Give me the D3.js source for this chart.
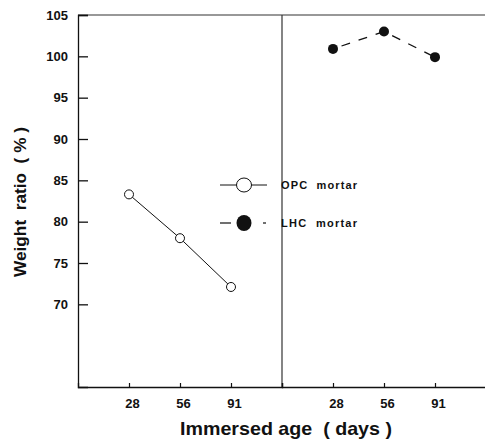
<!DOCTYPE html>
<html><head><meta charset="utf-8">
<script src="https://cdn.jsdelivr.net/npm/d3@7"></script>
<style>body{margin:0;background:#fff}svg{display:block}text{font-family:"Liberation Sans",Arial,sans-serif;font-weight:bold;fill:#111;white-space:pre}</style>
</head><body><svg id="c" width="485" height="441"></svg>
<script>
const ages = ["28","56","91"];
const opcValues = [83.3, 78.0, 72.1];
const lhcValues = [100.9, 103.0, 99.9];
const yTicks = [70,75,80,85,90,95,100,105];
const seriesNames = ["OPC  mortar","LHC  mortar"];

const svg = d3.select("#c");
const y = d3.scaleLinear().domain([60,105]).range([387,15]);
const xL = d3.scaleLinear().domain([0,4]).range([78,282]);
const xR = d3.scaleLinear().domain([0,4]).range([282,486]);
const ink = "#111";

// frame lines
svg.append("line").attr("x1",78).attr("x2",485).attr("y1",y(105)).attr("y2",y(105)).attr("stroke","#333").attr("stroke-width",1.2);
svg.append("line").attr("x1",xL(4)).attr("x2",xL(4)).attr("y1",y(105)).attr("y2",y(60)).attr("stroke","#333").attr("stroke-width",1.2);

// y axis
const yAx = d3.axisLeft(y).tickValues(yTicks).tickSize(-10).tickPadding(18).tickFormat(d3.format("d"));
const gy = svg.append("g").attr("transform","translate(78,0)").call(yAx);
gy.select(".domain").attr("stroke",ink).attr("stroke-width",1.3);
gy.selectAll(".tick line").attr("stroke",ink).attr("stroke-width",1.3);
gy.selectAll(".tick text").attr("font-size",13).attr("font-family","Liberation Sans, Arial, sans-serif").attr("font-weight","bold").attr("fill",ink).attr("dx",8);

// x axes
function xAxis(sc){
  const ax = d3.axisBottom(sc).tickValues([1,2,3]).tickSize(-4).tickPadding(12).tickFormat((d,i)=>ages[i]);
  const g = svg.append("g").attr("transform",`translate(0,${y(60)})`).call(ax);
  g.select(".domain").attr("stroke",ink).attr("stroke-width",1.3);
  g.selectAll(".tick line").attr("stroke",ink).attr("stroke-width",1.2);
  g.selectAll(".tick text").attr("font-size",13).attr("font-family","Liberation Sans, Arial, sans-serif").attr("font-weight","bold").attr("fill",ink).attr("dx",3);
}
xAxis(xL); xAxis(xR);

// OPC series
const line = (sc)=>d3.line().x((d,i)=>sc(i+1)).y(d=>y(d));
svg.append("path").datum(opcValues).attr("d",line(xL)).attr("fill","none").attr("stroke",ink).attr("stroke-width",1);
svg.selectAll(".opc").data(opcValues).join("circle").attr("cx",(d,i)=>xL(i+1)).attr("cy",d=>y(d)).attr("r",4.5).attr("fill","#fff").attr("stroke",ink).attr("stroke-width",1);

// LHC series
svg.append("path").datum(lhcValues).attr("d",line(xR)).attr("fill","none").attr("stroke",ink).attr("stroke-width",1.3).attr("stroke-dasharray","9,9").attr("stroke-dashoffset",-9);
svg.selectAll(".lhc").data(lhcValues).join("circle").attr("cx",(d,i)=>xR(i+1)).attr("cy",d=>y(d)).attr("r",5).attr("fill",ink);

// legend
const lg = svg.append("g");
lg.append("line").attr("x1",220).attr("x2",267).attr("y1",185).attr("y2",185).attr("stroke",ink).attr("stroke-width",1);
lg.append("ellipse").attr("cx",244).attr("cy",185).attr("rx",7.5).attr("ry",7).attr("fill","#fff").attr("stroke",ink).attr("stroke-width",1);
lg.append("text").attr("x",281).attr("y",189).attr("font-size",11).attr("textLength",76).attr("lengthAdjust","spacing").text(seriesNames[0]);
lg.append("line").attr("x1",220).attr("x2",231).attr("y1",223).attr("y2",223).attr("stroke",ink).attr("stroke-width",1.2);
lg.append("line").attr("x1",263).attr("x2",266).attr("y1",223).attr("y2",223).attr("stroke",ink).attr("stroke-width",1.2);
lg.append("ellipse").attr("cx",244).attr("cy",223).attr("rx",7.5).attr("ry",8).attr("fill",ink);
lg.append("text").attr("x",281).attr("y",227).attr("font-size",11).attr("textLength",76).attr("lengthAdjust","spacing").text(seriesNames[1]);

// axis titles
svg.append("text").attr("transform","translate(26,202) rotate(-90)").attr("x",-75).attr("font-size",16.5)
  .attr("textLength",150).attr("lengthAdjust","spacingAndGlyphs").text("Weight  ratio  ( % )");
svg.append("text").attr("x",180).attr("y",435).attr("font-size",18.5)
  .attr("textLength",212).attr("lengthAdjust","spacingAndGlyphs").text("Immersed age  ( days )");
</script></body></html>
